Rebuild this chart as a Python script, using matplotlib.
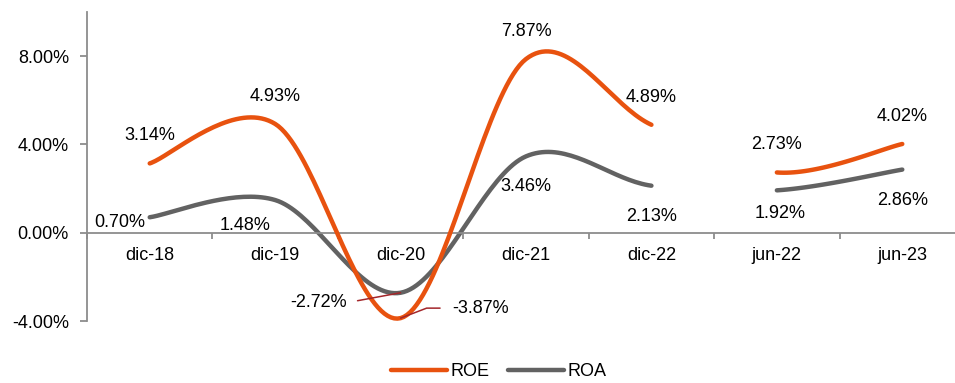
import matplotlib
matplotlib.use("Agg")
import matplotlib.pyplot as plt
import numpy as np

plt.rcParams['font.family'] = ['Liberation Sans', 'DejaVu Sans']

# periods and ratios (%)
periods = ['dic-18', 'dic-19', 'dic-20', 'dic-21', 'dic-22', 'jun-22', 'jun-23']
roe = [3.14, 4.93, -3.87, 7.87, 4.89, 2.73, 4.02]
roa = [0.70, 1.48, -2.72, 3.46, 2.13, 1.92, 2.86]
# line is not drawn between dic-22 and jun-22
gaps = [4]

ROE_C = '#E8520F'
ROA_C = '#626262'
AXIS_C = '#8C8C8C'
LEAD_C = '#A3262A'
FS = 13


def smooth(xs, ys, skip=(), n=40):
    # Catmull-Rom through all points, ends duplicated; returns one piece per
    # run of segments, leaving out the segments listed in skip
    p = np.column_stack([xs, ys]).astype(float)
    p = np.vstack([p[0], p, p[-1]])
    t = np.linspace(0, 1, n)[:, None]
    h00 = 2 * t**3 - 3 * t**2 + 1
    h10 = t**3 - 2 * t**2 + t
    h01 = -2 * t**3 + 3 * t**2
    h11 = t**3 - t**2
    pieces, cur = [], []
    for i in range(1, len(p) - 2):
        if i - 1 in skip:
            if cur:
                pieces.append(np.vstack(cur))
            cur = []
            continue
        p0, p1, p2, p3 = p[i - 1], p[i], p[i + 1], p[i + 2]
        m1 = (p2 - p0) / 2
        m2 = (p3 - p1) / 2
        cur.append(h00 * p1 + h10 * m1 + h01 * p2 + h11 * m2)
    if cur:
        pieces.append(np.vstack(cur))
    return pieces


fig = plt.figure(figsize=(9.55, 3.83), dpi=100)
ax = fig.add_axes([87 / 955, 1 - 321 / 383, 878 / 955, 309 / 383])

x = np.arange(len(periods))
for k, c in enumerate(smooth(x, roe, gaps)):
    ax.plot(c[:, 0], c[:, 1], color=ROE_C, lw=3.2, solid_capstyle='round',
            label='ROE' if k == 0 else None, zorder=3)
for k, c in enumerate(smooth(x, roa, gaps)):
    ax.plot(c[:, 0], c[:, 1], color=ROA_C, lw=3.2, solid_capstyle='round',
            label='ROA' if k == 0 else None, zorder=2)

ax.set_xlim(-0.5, len(periods) - 0.5)
ax.set_ylim(-4, 10)

for s in ['top', 'right']:
    ax.spines[s].set_visible(False)
ax.spines['left'].set_color(AXIS_C)
ax.spines['left'].set_linewidth(1.3)
ax.spines['bottom'].set_position(('data', 0))
ax.spines['bottom'].set_color(AXIS_C)
ax.spines['bottom'].set_linewidth(1.3)

ax.set_yticks([-4, 0, 4, 8])
ax.set_yticklabels([f'{v:.2f}%' for v in [-4, 0, 4, 8]], fontsize=FS)
ax.tick_params(axis='y', length=5, width=1.3, color=AXIS_C, pad=8)

ax.set_xticks(x)
ax.set_xticklabels(periods, fontsize=FS)
ax.set_xticks(np.arange(-0.5, len(periods), 1), minor=True)
ax.tick_params(axis='x', which='major', length=0, pad=10)
ax.tick_params(axis='x', which='minor', length=4, width=1.3, color=AXIS_C,
               direction='out')

# data labels: offsets in pixels (dx, dy, ha)
roe_off = [(0, 28, 'center'), (0, 27, 'center'), None, (0, 28, 'center'),
           (0, 27, 'center'), (0, 28, 'center'), (0, 27, 'center')]
roa_off = [(-4, -5, 'right'), (-30, -25, 'center'), None, (0, -30, 'center'),
           (0, -31, 'center'), (3, -23, 'center'), (0, -31, 'center')]

for vals, offs in [(roe, roe_off), (roa, roa_off)]:
    for i, (v, o) in enumerate(zip(vals, offs)):
        if o is None:
            continue
        ax.annotate(f'{v:.2f}%', (x[i], v), xytext=(o[0], o[1]),
                    textcoords='offset pixels', ha=o[2], va='center',
                    fontsize=FS, zorder=5)

# dic-20 labels sit below the dip, tied to it with leader lines
ax.annotate(f'{roa[2]:.2f}%', (x[2], roa[2]), xytext=(-54, -10),
            textcoords='offset pixels', ha='right', va='center', fontsize=FS,
            arrowprops=dict(arrowstyle='-', color=LEAD_C, lw=1.1,
                            shrinkA=6, shrinkB=0, relpos=(1, 0.5)),
            zorder=5)
ax.annotate(f'{roe[2]:.2f}%', (x[2], roe[2]), xytext=(52, 10),
            textcoords='offset pixels', ha='left', va='center', fontsize=FS,
            arrowprops=dict(arrowstyle='-', color=LEAD_C, lw=1.1,
                            shrinkA=7, shrinkB=0, relpos=(0, 0.5),
                            connectionstyle='angle,angleA=0,angleB=21,rad=0'),
            zorder=5)

fig.legend(loc='center', bbox_to_anchor=(499 / 955, 1 - 372 / 383), ncol=2,
           frameon=False, fontsize=FS, handlelength=3.1, handletextpad=0.2,
           columnspacing=1.0, borderpad=0)

fig.savefig('out.png', dpi=100)
